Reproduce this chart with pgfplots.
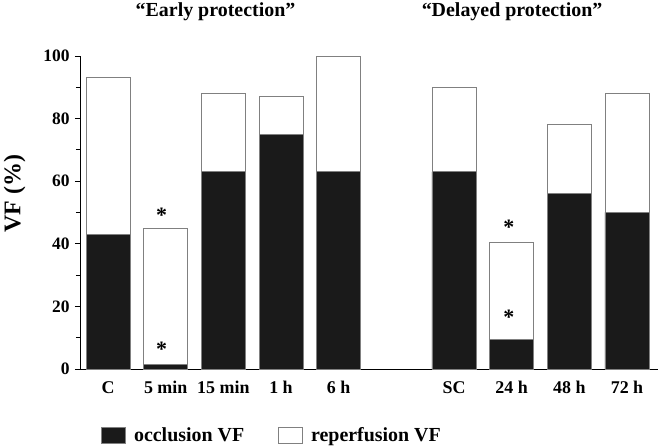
\documentclass[border=0pt]{standalone}
\usepackage{pgfplots}
\pgfplotsset{compat=1.18}
\usepackage{fontspec}
\setmainfont{Liberation Serif}
\definecolor{barblack}{RGB}{26,26,26}
\definecolor{edge}{RGB}{128,128,128}
\begin{document}
\begin{tikzpicture}
\useasboundingbox (0,0) rectangle (658bp,448bp);
\begin{axis}[
 at={(80bp,79bp)}, anchor=south west,
 scale only axis, width=578bp, height=313bp,
 xmin=-0.486, xmax=9.538, ymin=0, ymax=100,
 clip=false,
 axis x line=bottom, axis y line=left,
 axis line style={-, black, line width=0.9bp},
 ybar stacked, bar width=44bp,
 xtick={0,1,2,3,4,6,7,8,9},
 xticklabels={C,5 min,15 min,1 h,6 h,SC,24 h,48 h,72 h},
 x tick style={draw=none},
 ytick={0,20,...,100}, minor y tick num=1,
 y tick style={black, line width=0.9bp},
 tick align=outside, major tick length=5bp, minor tick length=4bp,
 /pgf/number format/assume math mode=true,
 xticklabel style={font=\fontsize{18}{18}\selectfont\bfseries, yshift=-4bp},
 yticklabel style={font=\fontsize{17.5}{17.5}\selectfont\bfseries, xshift=-2bp},
 ylabel={VF (\%)},
 ylabel style={font=\fontsize{24}{24}\selectfont\bfseries, at={(axis description cs:-0.113,0.56)}, anchor=center},
 legend columns=2,
 legend style={draw=none, fill=none, at={(axis description cs:0.0363,-0.211)}, anchor=west, inner sep=0pt,
   font=\fontsize{20}{20}\selectfont\bfseries,
   /tikz/every odd column/.append style={column sep=8bp},
   /tikz/every even column/.append style={column sep=34bp},
   nodes={inner sep=0pt}},
 legend image code/.code={\draw[#1] (0bp,-8bp) rectangle (24bp,8bp);},
]
\addplot[fill=barblack, draw=edge, line width=0.9bp] coordinates {(0,43) (1,1.5) (2,63) (3,75) (4,63) (6,63) (7,9.5) (8,56) (9,50)};
\addplot[fill=white, draw=edge, line width=0.9bp] coordinates {(0,50) (1,43.5) (2,25) (3,12) (4,37) (6,27) (7,31) (8,22) (9,38)};
\legend{occlusion VF, reperfusion VF}
\node[font=\fontsize{20}{20}\selectfont\bfseries, anchor=base] at (axis cs:1.864,112.6) {“Early protection”};
\node[font=\fontsize{20}{20}\selectfont\bfseries, anchor=base] at (axis cs:7.007,112.6) {“Delayed protection”};
\coordinate (s1) at (axis cs:0.93,49);
\coordinate (s2) at (axis cs:0.93,6.3);
\coordinate (s3) at (axis cs:6.95,45.2);
\coordinate (s4) at (axis cs:6.95,16.5);
\end{axis}
\foreach \s in {s1,s2,s3,s4}
  \node[font=\fontsize{22}{22}\selectfont\bfseries] at (\s) {*};
\end{tikzpicture}
\end{document}
